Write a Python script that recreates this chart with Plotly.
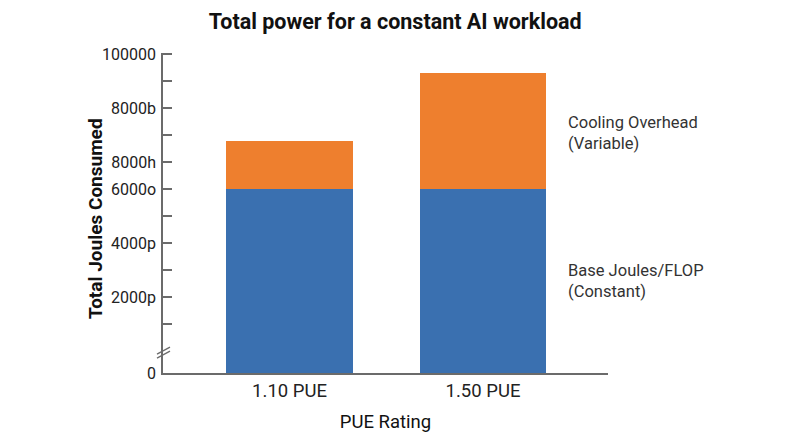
import plotly.graph_objects as go

# data
pue_labels = ['1.10 PUE', '1.50 PUE']
base_joules = [60000, 60000]        # Base Joules/FLOP (Constant)
cooling_overhead = [15700, 38000]   # Cooling Overhead (Variable)

# y ticks (labels as shown on the original, every other tick is unlabeled)
y_tickvals = [0, 16000, 24800, 33600, 42400, 51200, 60000, 68800, 77600, 86400, 95200, 104000]
y_ticktext = ['0', '', '2000p', '', '4000p', '', '6000o', '8000h', '', '8000b', '', '100000']

blue = '#3a70b0'
orange = '#ee7f2e'
axis_col = '#6b6b6b'

fig = go.Figure()
fig.add_trace(go.Bar(x=pue_labels, y=base_joules, name='Base Joules/FLOP',
                     marker=dict(color=blue, line=dict(width=0)), width=0.656))
fig.add_trace(go.Bar(x=pue_labels, y=cooling_overhead, name='Cooling Overhead',
                     marker=dict(color=orange, line=dict(width=0)), width=0.656))

# page body has an 8px margin, so margins are shifted by that
fig.update_layout(
    barmode='stack',
    width=800, height=447,
    margin=dict(l=155, r=200, t=45, b=82),
    paper_bgcolor='white', plot_bgcolor='white',
    showlegend=False,
    font=dict(family='Roboto', color='#222222'),
    title=dict(text='<b>Total power for a constant AI workload</b>',
               x=0.484, xanchor='center', y=0.969, yanchor='middle',
               font=dict(size=21.5, color='#111111')),
)

fig.update_xaxes(range=[-0.654, 1.646], showline=True, linecolor=axis_col, linewidth=1.5,
                 showgrid=False, ticks='', tickfont=dict(size=18.5),
                 title=dict(text='PUE Rating', font=dict(size=18.5, color='#111111'), standoff=14))
fig.update_yaxes(range=[0, 104400], showline=True, linecolor=axis_col, linewidth=1.5,
                 showgrid=False, zeroline=False, ticks='inside', ticklen=9, tickwidth=1.5,
                 tickcolor=axis_col, tickmode='array', tickvals=y_tickvals, ticktext=y_ticktext,
                 tickfont=dict(size=16), ticklabelstandoff=2)

# y axis title placed by hand (sits closer to the tick labels than plotly puts it)
fig.add_annotation(text='<b>Total Joules Consumed</b>', xref='paper', yref='paper',
                   x=-0.153, y=0.484, xanchor='center', yanchor='middle', textangle=-90,
                   showarrow=False, font=dict(size=19, color='#111111'))

# series labels on the right side
fig.add_annotation(text='Cooling Overhead<br>(Variable)', xref='paper', yref='paper',
                   x=0.906, y=0.75, xanchor='left', yanchor='middle', align='left',
                   showarrow=False, font=dict(size=16.5, color='#333333'))
fig.add_annotation(text='Base Joules/FLOP<br>(Constant)', xref='paper', yref='paper',
                   x=0.906, y=0.2875, xanchor='left', yanchor='middle', align='left',
                   showarrow=False, font=dict(size=16.5, color='#333333'))

# axis break mark
for dy in [0.0, -0.0125]:
    fig.add_shape(type='line', xref='paper', yref='paper',
                  x0=-0.0135, y0=0.059 + dy, x1=0.0157, y1=0.081 + dy,
                  line=dict(color=axis_col, width=1.3))

fig.write_html('out.html')
